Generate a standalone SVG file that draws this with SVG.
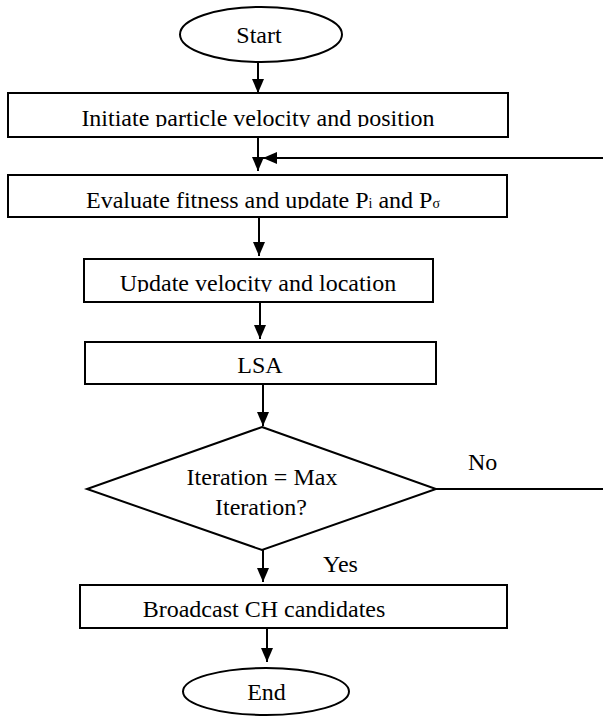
<svg xmlns="http://www.w3.org/2000/svg" width="603" height="717" viewBox="0 0 603 717">
<style>
.box{fill:#fff;stroke:#000;stroke-width:2}
.t{font-family:"Liberation Serif","Times New Roman",serif;font-size:24px;fill:#000;text-anchor:middle}
.tl{font-family:"Liberation Serif","Times New Roman",serif;font-size:24px;fill:#000}
.c{fill:none;stroke:#000;stroke-width:2}
.sub{font-size:14px}
</style>
<defs>
<marker id="ah" viewBox="0 0 14 12" refX="14" refY="6" markerWidth="14" markerHeight="12" markerUnits="userSpaceOnUse" orient="auto">
<path d="M0,0 L14,6 L0,12 z" fill="#000"/>
</marker>
<clipPath id="c1"><rect x="0" y="93" width="603" height="34"/></clipPath>
<clipPath id="c2"><rect x="0" y="175" width="603" height="34"/></clipPath>
<clipPath id="c3"><rect x="0" y="259" width="603" height="33"/></clipPath>
</defs>
<rect width="603" height="717" fill="#fff"/>
<g id="start">
<ellipse cx="261" cy="34.5" rx="81" ry="27.5" class="box"/>
<text x="259" y="43" class="t">Start</text>
</g>
<g id="init">
<rect x="8" y="93" width="500" height="44" class="box"/>
<text x="258" y="126" class="t" clip-path="url(#c1)">Initiate particle velocity and position</text>
</g>
<g id="evaluate">
<rect x="8" y="175" width="499" height="42" class="box"/>
<text x="263" y="208" class="t" clip-path="url(#c2)">Evaluate fitness and update P<tspan class="sub" dy="0">i</tspan> and P<tspan class="sub">σ</tspan></text>
</g>
<g id="update">
<rect x="84" y="259" width="349" height="43" class="box"/>
<text x="258" y="291" class="t" clip-path="url(#c3)">Update velocity and location</text>
</g>
<g id="lsa">
<rect x="85" y="342" width="351" height="42" class="box"/>
<text x="260" y="373" class="t">LSA</text>
</g>
<g id="decision">
<polygon points="262,427 436,489 262,550 87,489" class="box"/>
<text x="262" y="485" class="t">Iteration = Max</text>
<text x="261" y="515" class="t">Iteration?</text>
</g>
<g id="broadcast">
<rect x="80" y="585" width="427" height="43" class="box"/>
<text x="264" y="617" class="t">Broadcast CH candidates</text>
</g>
<g id="end">
<ellipse cx="266" cy="691.5" rx="83" ry="23.5" class="box"/>
<text x="266.5" y="700" class="t">End</text>
</g>
<g id="connectors">
<line x1="258" y1="62" x2="258" y2="93" class="c" marker-end="url(#ah)"/>
<line x1="258" y1="137" x2="258" y2="171" class="c" marker-end="url(#ah)"/>
<path d="M436,489 H607 V158 H263" class="c" stroke-width="1.8" marker-end="url(#ah)"/>
<line x1="259" y1="217" x2="259" y2="256" class="c" marker-end="url(#ah)"/>
<line x1="260" y1="302" x2="260" y2="339" class="c" marker-end="url(#ah)"/>
<line x1="263" y1="384" x2="263" y2="426" class="c" marker-end="url(#ah)"/>
<line x1="263" y1="550" x2="263" y2="582" class="c" marker-end="url(#ah)"/>
<line x1="267" y1="628" x2="267" y2="662" class="c" marker-end="url(#ah)"/>
<text x="468" y="470" class="tl">No</text>
<text x="323" y="572" class="tl">Yes</text>
</g>
</svg>
